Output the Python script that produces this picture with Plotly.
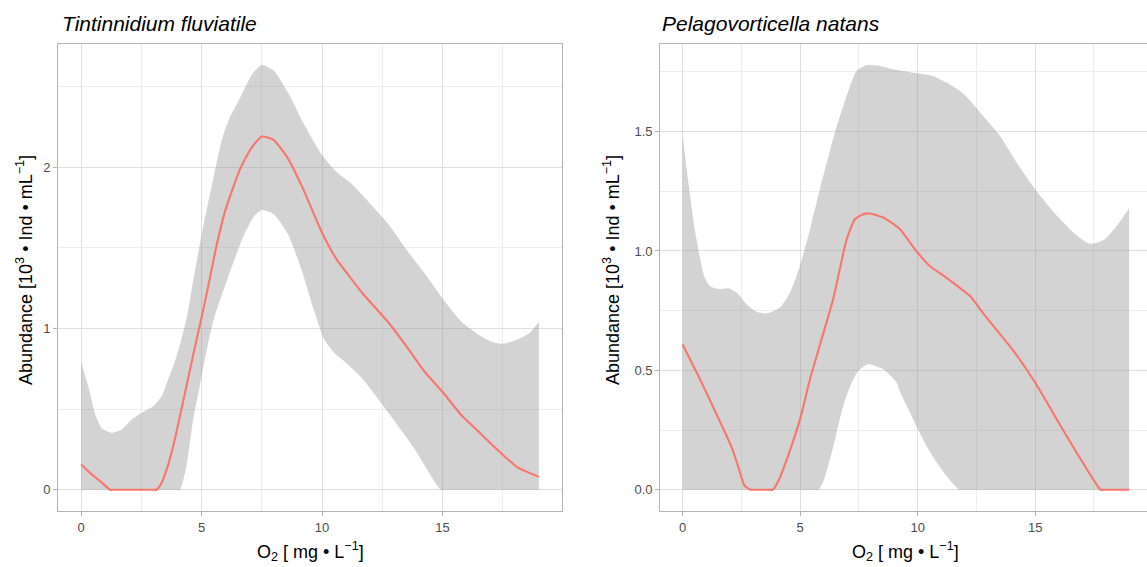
import plotly.graph_objects as go

W, H = 1147, 567
FONT = "Liberation Sans, Arial, Helvetica, sans-serif"

# ---- Tintinnidium fluviatile: fitted abundance and confidence band ----
tf_fit_x = [0, 0.4, 0.79, 1.2, 1.35, 2.95, 3.13, 3.34, 3.55, 3.82, 4.1, 4.37, 4.7, 5.0,
            5.3, 5.6, 6.0, 6.6, 7.07, 7.5, 7.99, 8.6, 9.2, 9.98, 10.6, 11.05, 11.67,
            12.74, 13.5, 14.27, 15.04, 15.8, 16.57, 17.34, 18.1, 19.0]
tf_fit_y = [0.157, 0.10, 0.053, 0.0, 0.0, 0.0, 0.0, 0.043, 0.126, 0.27, 0.456, 0.642,
            0.87, 1.07, 1.28, 1.5, 1.74, 1.99, 2.12, 2.19, 2.17, 2.05, 1.87, 1.6, 1.43,
            1.34, 1.22, 1.04, 0.89, 0.73, 0.6, 0.46, 0.35, 0.24, 0.14, 0.08]

tf_upper_x = [0, 0.33, 0.6, 0.86, 1.27, 1.68, 2.1, 2.51, 2.99, 3.34, 3.61, 3.9, 4.16,
              4.4, 4.62, 5.0, 5.3, 5.53, 5.84, 6.15, 6.6, 7.07, 7.5, 7.99, 8.6, 9.2,
              9.98, 10.6, 11.2, 11.96, 12.74, 13.5, 14.27, 15.04, 15.8, 16.57, 17.0,
              17.49, 18.1, 18.6, 19.0]
tf_upper_y = [0.787, 0.62, 0.46, 0.38, 0.353, 0.374, 0.436, 0.477, 0.518, 0.58, 0.684,
              0.80, 0.93, 1.08, 1.27, 1.58, 1.80, 1.96, 2.17, 2.3, 2.43, 2.57, 2.634,
              2.6, 2.46, 2.28, 2.08, 1.97, 1.9, 1.78, 1.65, 1.49, 1.34, 1.18, 1.04,
              0.955, 0.92, 0.905, 0.93, 0.97, 1.04]

tf_lower_x = [0, 3.95, 4.1, 4.37, 4.65, 4.92, 5.3, 5.53, 6.15, 6.76, 7.2, 7.5, 7.99, 8.6,
              9.2, 9.67, 10.1, 10.5, 10.9, 11.67, 12.74, 13.81, 14.93, 15.1, 19.0]
tf_lower_y = [0, 0, 0, 0.146, 0.436, 0.642, 0.93, 1.07, 1.34, 1.58, 1.70, 1.735, 1.71,
              1.58, 1.34, 1.11, 0.93, 0.85, 0.8, 0.69, 0.48, 0.26, 0.0, 0.0, 0.0]

# ---- Pelagovorticella natans: fitted abundance and confidence band ----
pn_fit_x = [0, 0.74, 1.17, 1.78, 2.09, 2.4, 2.63, 2.89, 3.02, 3.7, 3.83, 4.09, 4.55,
            5.01, 5.42, 6.0, 6.41, 6.98, 7.33, 7.69, 7.97, 8.54, 9.25, 9.94, 10.55,
            11.01, 11.63, 12.24, 12.86, 14.09, 15.0, 16.34, 17.47, 17.78, 17.95, 19.0]
pn_fit_y = [0.608, 0.463, 0.373, 0.245, 0.177, 0.086, 0.018, 0.0, 0.0, 0.0, 0.0, 0.04,
            0.16, 0.3, 0.463, 0.66, 0.8, 1.049, 1.133, 1.154, 1.157, 1.14, 1.091, 1.0,
            0.934, 0.903, 0.858, 0.81, 0.73, 0.58, 0.449, 0.225, 0.044, 0.0, 0.0, 0.0]

pn_upper_x = [0, 0.23, 0.55, 0.94, 1.2, 1.59, 1.94, 2.3, 2.72, 3.15, 3.57, 4.14, 4.57,
              4.99, 5.42, 5.84, 6.48, 6.98, 7.4, 7.83, 8.4, 8.96, 9.96, 10.66, 11.23,
              11.8, 12.09, 12.79, 13.5, 14.21, 15.0, 15.94, 16.71, 17.32, 17.94, 18.55,
              19.0]
pn_upper_y = [1.489, 1.297, 1.07, 0.888, 0.85, 0.84, 0.844, 0.826, 0.777, 0.745, 0.738,
              0.763, 0.826, 0.937, 1.09, 1.258, 1.496, 1.649, 1.754, 1.778, 1.775, 1.761,
              1.744, 1.733, 1.705, 1.67, 1.645, 1.565, 1.482, 1.37, 1.258, 1.146, 1.07,
              1.03, 1.047, 1.115, 1.179]

pn_lower_x = [0, 5.62, 5.78, 6.01, 6.4, 6.86, 7.2, 7.5, 7.9, 8.54, 9.1, 9.25, 9.67, 10.03,
              10.38, 10.81, 11.23, 11.77, 11.93, 19.0]
pn_lower_y = [0, 0, 0, 0.04, 0.177, 0.36, 0.45, 0.50, 0.526, 0.505, 0.45, 0.41, 0.323,
              0.25, 0.183, 0.114, 0.058, 0, 0, 0]

titles = ["Tintinnidium fluviatile", "Pelagovorticella natans"]
x_title = "O<sub>2</sub> [ mg • L<sup>−1</sup>]"
y_title = "Abundance [10<sup>3</sup> • Ind • mL<sup>−1</sup>]"

LINE_COL = "#F8766D"
BAND_COL = "rgba(150,150,150,0.42)"

fig = go.Figure()


def add_panel(xa, ya, fx, fy, ux, uy, lx, ly):
    # lower edge of the band (invisible), then upper edge filled down to it
    fig.add_trace(go.Scatter(
        x=lx, y=ly, mode="lines", line=dict(width=0, shape="spline", smoothing=0.6),
        hoverinfo="skip", showlegend=False, xaxis=xa, yaxis=ya))
    fig.add_trace(go.Scatter(
        x=ux, y=uy, mode="lines", fill="tonexty", fillcolor=BAND_COL,
        line=dict(width=0, shape="spline", smoothing=0.6),
        hoverinfo="skip", showlegend=False, xaxis=xa, yaxis=ya))
    fig.add_trace(go.Scatter(
        x=fx, y=fy, mode="lines",
        line=dict(color=LINE_COL, width=2.1, shape="spline", smoothing=0.5),
        showlegend=False, xaxis=xa, yaxis=ya))


add_panel("x", "y", tf_fit_x, tf_fit_y, tf_upper_x, tf_upper_y, tf_lower_x, tf_lower_y)
add_panel("x2", "y2", pn_fit_x, pn_fit_y, pn_upper_x, pn_upper_y, pn_lower_x, pn_lower_y)


def px(x):
    return x / W


def py(y):
    return 1 - y / H


panel_top, panel_bottom = 43.7, 511.0
left_l, left_r = 58.3, 561.7
right_l = 660.3

GRID = "#DEDEDE"
MINOR = "#EDEDED"
BORDER = "#B3B3B3"
TICKFONT = dict(family=FONT, size=13, color="#4D4D4D")

common_x = dict(showgrid=True, gridcolor=GRID, gridwidth=1, zeroline=False,
                showline=True, linecolor=BORDER, linewidth=1.2, mirror=True,
                ticks="outside", ticklen=4, tickcolor=BORDER, tickwidth=1,
                tickfont=TICKFONT, tick0=0, dtick=5,
                minor=dict(showgrid=True, gridcolor=MINOR, gridwidth=0.7, dtick=2.5, tick0=0))
common_y = dict(showgrid=True, gridcolor=GRID, gridwidth=1, zeroline=False,
                showline=True, linecolor=BORDER, linewidth=1.2,
                ticks="outside", ticklen=4, tickcolor=BORDER, tickwidth=1,
                tickfont=TICKFONT, tick0=0)

fig.update_layout(
    width=W, height=H,
    margin=dict(l=0, r=0, t=0, b=0),
    paper_bgcolor="white", plot_bgcolor="white",
    font=dict(family=FONT),
    xaxis=dict(common_x, domain=[px(left_l), px(left_r)], range=[-0.95, 19.95],
               anchor="y"),
    yaxis=dict(common_y, domain=[py(panel_bottom), py(panel_top)],
               range=[-0.1317, 2.7657], dtick=1, mirror=True, anchor="x",
               minor=dict(showgrid=True, gridcolor=MINOR, gridwidth=0.7, dtick=0.5, tick0=0)),
    xaxis2=dict(common_x, domain=[px(right_l), 1.0], range=[-0.95, 19.76],
                anchor="y2"),
    yaxis2=dict(common_y, domain=[py(panel_bottom), py(panel_top)],
                range=[-0.089, 1.868], dtick=0.5, tickformat=".1f", mirror=False,
                anchor="x2",
                minor=dict(showgrid=True, gridcolor=MINOR, gridwidth=0.7, dtick=0.25, tick0=0)),
)

ann = []
# panel titles
for x0, t in [(60.0, titles[0]), (660.0, titles[1])]:
    ann.append(dict(x=px(x0), y=py(23), xref="paper", yref="paper",
                    xanchor="left", yanchor="middle", showarrow=False,
                    text=f"<i>{t}</i>", font=dict(family=FONT, size=21, color="black")))
# x-axis titles
for xc in [(left_l + left_r) / 2, 905.5]:
    ann.append(dict(x=px(xc), y=py(551), xref="paper", yref="paper",
                    xanchor="center", yanchor="middle", showarrow=False,
                    text=x_title, font=dict(family=FONT, size=18, color="black")))
# y-axis titles
for xc in [24.0, 611.0]:
    ann.append(dict(x=px(xc), y=py(270), xref="paper",
                    yref="paper", xanchor="center", yanchor="middle", showarrow=False,
                    textangle=-90, text=y_title,
                    font=dict(family=FONT, size=18, color="black")))
fig.update_layout(annotations=ann)

fig.write_html("out.html")
